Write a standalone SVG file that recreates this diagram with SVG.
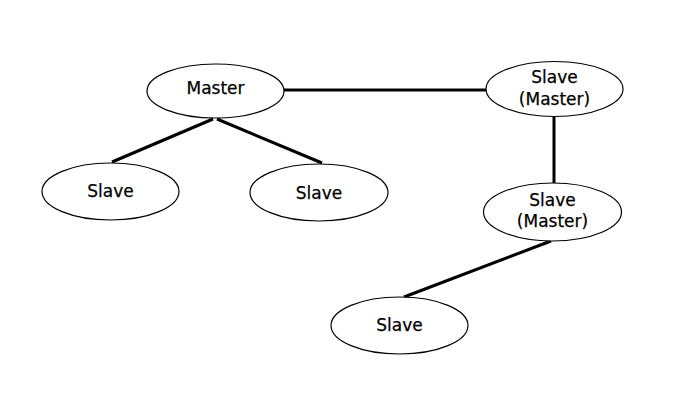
<svg xmlns="http://www.w3.org/2000/svg" width="700" height="400" viewBox="0 0 700 400">
<style>
.n{fill:#fff;stroke:#000;stroke-width:1.2}
.t{font-family:"DejaVu Sans",sans-serif;font-size:17px;text-anchor:middle;fill:#000;stroke:#000;stroke-width:0.25}
.c{stroke:#000;stroke-width:3;fill:none}
</style>
<rect width="700" height="400" fill="#fff"/>
<g id="connectors">
<line class="c" x1="284" y1="90" x2="487" y2="90"/>
<line class="c" x1="213" y1="119" x2="112" y2="162"/>
<line class="c" x1="217" y1="119" x2="322" y2="163"/>
<line class="c" x1="554" y1="117" x2="554" y2="183"/>
<line class="c" x1="551" y1="241" x2="404" y2="297"/>
</g>
<g id="master"><ellipse class="n" cx="215.5" cy="91" rx="68.5" ry="27"/><text class="t" x="215.5" y="94">Master</text></g>
<g id="slave-master-1"><ellipse class="n" cx="554.5" cy="89" rx="68.5" ry="27.5"/><text class="t" x="554.5" y="83">Slave</text><text class="t" x="554.5" y="105">(Master)</text></g>
<g id="slave-1"><ellipse class="n" cx="110.5" cy="191.5" rx="68.5" ry="28.5"/><text class="t" x="110.5" y="197">Slave</text></g>
<g id="slave-2"><ellipse class="n" cx="319" cy="192.5" rx="69" ry="28.5"/><text class="t" x="319" y="199">Slave</text></g>
<g id="slave-master-2"><ellipse class="n" cx="552.5" cy="212" rx="69" ry="29"/><text class="t" x="552.5" y="206">Slave</text><text class="t" x="552.5" y="227">(Master)</text></g>
<g id="slave-3"><ellipse class="n" cx="399.5" cy="325.5" rx="68.5" ry="28.5"/><text class="t" x="399.5" y="331">Slave</text></g>
</svg>
